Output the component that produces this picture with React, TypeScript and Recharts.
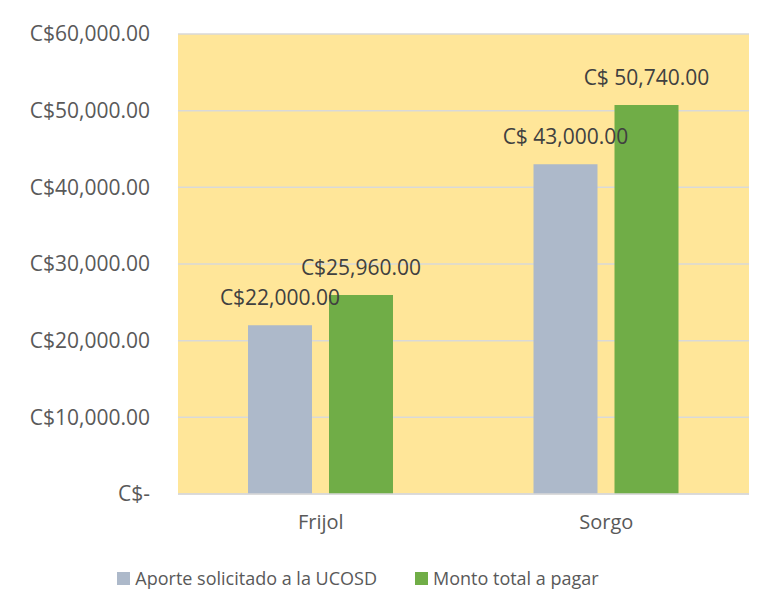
import React from 'react';
import { BarChart, Bar, XAxis, YAxis, CartesianGrid, Legend, LabelList } from 'recharts';

const categories = ['Frijol', 'Sorgo'];
const aporteValues = [22000, 43000];
const montoValues = [25960, 50740];
const aporteLabels = ['C$22,000.00', 'C$ 43,000.00'];
const montoLabels = ['C$25,960.00', 'C$ 50,740.00'];
const yTicks = [0, 10000, 20000, 30000, 40000, 50000, 60000];
const seriesNames = ['Aporte solicitado a la UCOSD', 'Monto total a pagar'];

const data = categories.map((c, i) => ({
  name: c,
  aporte: aporteValues[i],
  monto: montoValues[i],
  aporteLabel: aporteLabels[i],
  montoLabel: montoLabels[i],
}));

const fmtY = (v: number) =>
  v === 0
    ? 'C$-'
    : 'C$' + v.toLocaleString('en-US', { minimumFractionDigits: 2, maximumFractionDigits: 2 });

const FONT = '"Open Sans", sans-serif';

const renderLegend = (props: any) => {
  const { payload } = props;
  return (
    <div style={{ display: 'flex', justifyContent: 'center', alignItems: 'center', fontFamily: FONT, height: 28 }}>
      {payload.map((p: any, i: number) => (
        <div key={i} style={{ display: 'flex', alignItems: 'center', marginRight: i === 0 ? 38 : 0 }}>
          <div style={{ width: 13, height: 13, background: p.color, marginRight: 5 }} />
          <span style={{ fontSize: 18, color: '#595959' }}>{p.value}</span>
        </div>
      ))}
    </div>
  );
};

const makeLabel = (props: any) => {
  const { x, y, width, value } = props;
  return (
    <text
      x={Number(x) + Number(width) / 2}
      y={Number(y) - 20}
      textAnchor="middle"
      fill="#404040"
      fontSize={21}
      fontFamily={FONT}
    >
      {value}
    </text>
  );
};

export default function App() {
  return (
    <div style={{ margin: -8, width: 764, height: 611, position: 'relative', background: '#fff' }}>
      <div style={{ position: 'absolute', left: 5, top: 0, width: 1, height: 611, background: '#D9D9D9' }} />
      <BarChart
        width={764}
        height={611}
        data={data}
        margin={{ top: 34, right: 15, bottom: 29, left: 0 }}
        barCategoryGap={70}
        barGap={17}
      >
        <CartesianGrid vertical={false} stroke="#D9D9D9" strokeWidth={1.5} fill="#FFE699" fillOpacity={1} />
        <XAxis
          dataKey="name"
          height={60}
          tickLine={false}
          axisLine={{ stroke: '#D9D9D9', strokeWidth: 1.5 }}
          tickMargin={15}
          tick={{ fill: '#595959', fontSize: 20, fontFamily: FONT }}
        />
        <YAxis
          width={178}
          domain={[0, 60000]}
          ticks={yTicks}
          tickFormatter={fmtY}
          tickLine={false}
          axisLine={false}
          tickMargin={22}
          tick={{ fill: '#595959', fontSize: 21, fontFamily: FONT }}
        />
        <Legend
          content={renderLegend}
          wrapperStyle={{ position: 'absolute', top: 564, left: -24, width: 764 }}
        />
        <Bar dataKey="aporte" name={seriesNames[0]} fill="#ADB9CA" barSize={64} isAnimationActive={false}>
          <LabelList dataKey="aporteLabel" content={makeLabel} />
        </Bar>
        <Bar dataKey="monto" name={seriesNames[1]} fill="#70AD47" barSize={64} isAnimationActive={false}>
          <LabelList dataKey="montoLabel" content={makeLabel} />
        </Bar>
      </BarChart>
    </div>
  );
}
